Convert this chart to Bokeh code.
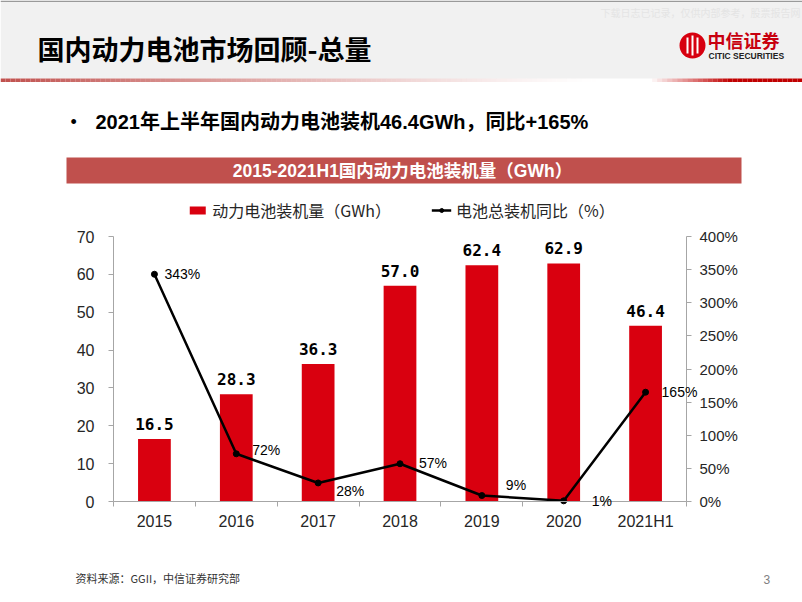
import numpy as np
from bokeh.plotting import figure
from bokeh.models import (Range1d, LinearAxis, FixedTicker, ColumnDataSource, LabelSet,
                          Legend, LegendItem, PrintfTickFormatter)
from bokeh.embed import file_html
from bokeh.resources import INLINE
from bokeh.core.properties import value

# ---------------- data ----------------
categories = ["2015", "2016", "2017", "2018", "2019", "2020", "2021H1"]
installed_gwh = [16.5, 28.3, 36.3, 57.0, 62.4, 62.9, 46.4]
yoy_pct = [343, 72, 28, 57, 9, 1, 165]
left_ticks = [0, 10, 20, 30, 40, 50, 60, 70]
right_ticks = [0, 50, 100, 150, 200, 250, 300, 350, 400]

page_title = "国内动力电池市场回顾-总量"
bullet_text = "2021年上半年国内动力电池装机46.4GWh，同比+165%"
chart_title = "2015-2021H1国内动力电池装机量（GWh）"
bar_name = "动力电池装机量（GWh）"
line_name = "电池总装机同比（%）"
source_text = "资料来源：GGII，中信证券研究部"
watermark = "下载日志已记录，仅供内部参考，股票报告网"

# label placement (screen px) for the percentage labels
pct_dx = [10, 16, 18, 19, 24, 28, 16]
pct_dy = [0, 4, -8, 1, 11, 0, 0]

W, H = 802, 602
# chart plotting area in page pixels
PL, PR, PT, PB = 113, 686, 236, 501
GMAX, PMAX = 70, 400

CJK = "Noto Sans CJK SC"
MIX = "Liberation Sans, Noto Sans CJK SC"
RED = "#D9000F"
AX = "#a6a6a6"
TXT = "#262626"

n = len(categories)

p = figure(width=W, height=H, x_range=Range1d(0, W), y_range=Range1d(H, 0),
           output_backend="svg", toolbar_location=None, min_border=0,
           x_axis_type=None, y_axis_type=None, outline_line_color=None)
p.grid.visible = False

# chart ranges chosen so the 0..n / 0..70 / 0..400 domain lands on the plotting area
ppx = (PR - PL) / n
ppg = (PB - PT) / GMAX
ppp = (PB - PT) / PMAX
p.extra_x_ranges = {"cat": Range1d(-PL / ppx, n + (W - PR) / ppx)}
p.extra_y_ranges = {"gwh": Range1d(-(H - PB) / ppg, GMAX + PT / ppg),
                    "pct": Range1d(-(H - PB) / ppp, PMAX + PT / ppp)}

# ---------------- header decoration (page pixel coordinates) ----------------
p.quad(left=[0], right=[W], top=[0], bottom=[78], color="#f1f1f1", line_color=None)
p.quad(left=[0], right=[W], top=[0], bottom=[1.5], color="#9a9a9a", line_color=None)
xs = np.linspace(0, W, 161)
xl, xr = xs[:-1], xs[1:]
mid = (xl + xr) / 2
alpha_l = np.clip(1 - mid / 600.0, 0, 1) ** 1.3
alpha_r = np.clip((mid - 650) / 80.0, 0, 1)
p.quad(left=xl, right=xr, top=78, bottom=81.5, color="#C0504D", alpha=alpha_l, line_color=None)
p.quad(left=xl, right=xr, top=78, bottom=81.5, color="#C00000", alpha=alpha_r, line_color=None)
p.text(x=[37], y=[48], text=[page_title], text_font=value(CJK), text_font_style="bold",
       text_font_size="27px", text_baseline="middle", text_align="left", text_color="#000000")
p.text(x=[800], y=[12], text=[watermark], text_font=value(CJK), text_font_size="10px",
       text_baseline="middle", text_align="right", text_color="#e4e4e4")
# logo
p.scatter(x=[692], y=[45], size=26, color="#D7000F", line_color=None)
p.quad(left=[686, 691, 696], right=[688, 693, 698], top=[37, 35, 37], bottom=[53, 55, 53],
       color="white", line_color=None)
p.text(x=[707], y=[39], text=["中信证券"], text_font=value(CJK),
       text_font_style="bold", text_font_size="18px", text_baseline="middle",
       text_align="left", text_color="#C8000F")
p.text(x=[708], y=[55], text=["CITIC SECURITIES"], text_font=value("Liberation Sans"),
       text_font_style="bold", text_font_size="8.5px", text_baseline="middle",
       text_align="left", text_color="#222222")
# bullet
p.text(x=[70], y=[121], text=["•"], text_font=value("Liberation Sans"), text_font_size="18px",
       text_baseline="middle", text_align="left", text_color="#000000")
p.text(x=[95], y=[121], text=[bullet_text], text_font=value(MIX), text_font_style="bold",
       text_font_size="20px", text_baseline="middle", text_align="left", text_color="#000000")
# chart title band
p.quad(left=[66], right=[741], top=[157], bottom=[183], color="#C0504D", line_color=None)
p.text(x=[402], y=[170.5], text=[chart_title], text_font=value(MIX), text_font_style="bold",
       text_font_size="17.5px", text_baseline="middle", text_align="center", text_color="#ffffff")
# footer
p.text(x=[75], y=[577], text=[source_text], text_font=value(CJK), text_font_size="11px",
       text_baseline="middle", text_align="left", text_color="#333333")
p.text(x=[763], y=[579], text=["3"], text_font=value("Liberation Sans"), text_font_size="12px",
       text_baseline="middle", text_align="left", text_color="#7f7f7f")

# ---------------- chart ----------------
src = ColumnDataSource(dict(
    x=np.arange(n) + 0.5,
    v=installed_gwh,
    vlbl=["%.1f" % v for v in installed_gwh],
    p=yoy_pct,
    plbl=["%d%%" % v for v in yoy_pct],
    dx=pct_dx,
    dy=pct_dy,
))

bars = p.vbar(x="x", top="v", width=0.4, source=src, color=RED, line_color=None,
              x_range_name="cat", y_range_name="gwh")
ln = p.line(x="x", y="p", source=src, x_range_name="cat", y_range_name="pct",
            color="#000000", line_width=2.5)
pts = p.scatter(x="x", y="p", source=src, x_range_name="cat", y_range_name="pct",
                size=6, color="#000000")

yl = LinearAxis(x_range_name="cat", y_range_name="gwh", fixed_location=0, bounds=(0, GMAX),
                ticker=FixedTicker(ticks=left_ticks))
yr = LinearAxis(x_range_name="cat", y_range_name="pct", fixed_location=n, bounds=(0, PMAX),
                ticker=FixedTicker(ticks=right_ticks), formatter=PrintfTickFormatter(format="%d%%"))
xa = LinearAxis(x_range_name="cat", y_range_name="gwh", fixed_location=0, bounds=(0, n),
                ticker=FixedTicker(ticks=list(np.arange(n) + 0.5), minor_ticks=list(range(n + 1))),
                major_label_overrides={float(i + 0.5): c for i, c in enumerate(categories)})
for ax in (yl, yr, xa):
    ax.axis_line_color = AX
    ax.major_tick_line_color = AX
    ax.minor_tick_line_color = None
    ax.major_tick_in = 0
    ax.major_tick_out = 5
    ax.major_label_text_font = "Liberation Sans"
    ax.major_label_text_font_size = "16px"
    ax.major_label_text_color = TXT
yl.major_label_standoff = 14
yr.major_label_standoff = 8
yr.major_label_text_font_size = "15px"
xa.major_tick_out = 0
xa.minor_tick_line_color = AX
xa.minor_tick_in = 0
xa.minor_tick_out = 5
xa.major_label_standoff = 6
p.add_layout(yl, "left")
p.add_layout(yr, "right")
p.add_layout(xa, "below")

p.add_layout(LabelSet(x="x", y="v", text="vlbl", source=src, x_range_name="cat", y_range_name="gwh",
                      y_offset=9, text_align="center", text_baseline="alphabetic",
                      text_font=value("DejaVu Sans Mono"), text_font_style="bold",
                      text_font_size="16px", text_color="#000000"))
p.add_layout(LabelSet(x="x", y="p", text="plbl", source=src, x_range_name="cat", y_range_name="pct",
                      x_offset="dx", y_offset="dy", text_align="left", text_baseline="middle",
                      text_font=value("Liberation Sans"), text_font_size="14px",
                      text_color="#000000"))

legend = Legend(items=[LegendItem(label=bar_name, renderers=[bars]),
                       LegendItem(label=line_name, renderers=[ln, pts])],
                orientation="horizontal", location="top_center",
                label_text_font=CJK, label_text_font_size="16px", label_text_color=TXT,
                glyph_width=20, glyph_height=10, label_standoff=5, spacing=40,
                padding=0, margin=198, border_line_color=None, background_fill_alpha=0)
p.add_layout(legend, "center")

open("out.html", "w").write(file_html(p, INLINE))
